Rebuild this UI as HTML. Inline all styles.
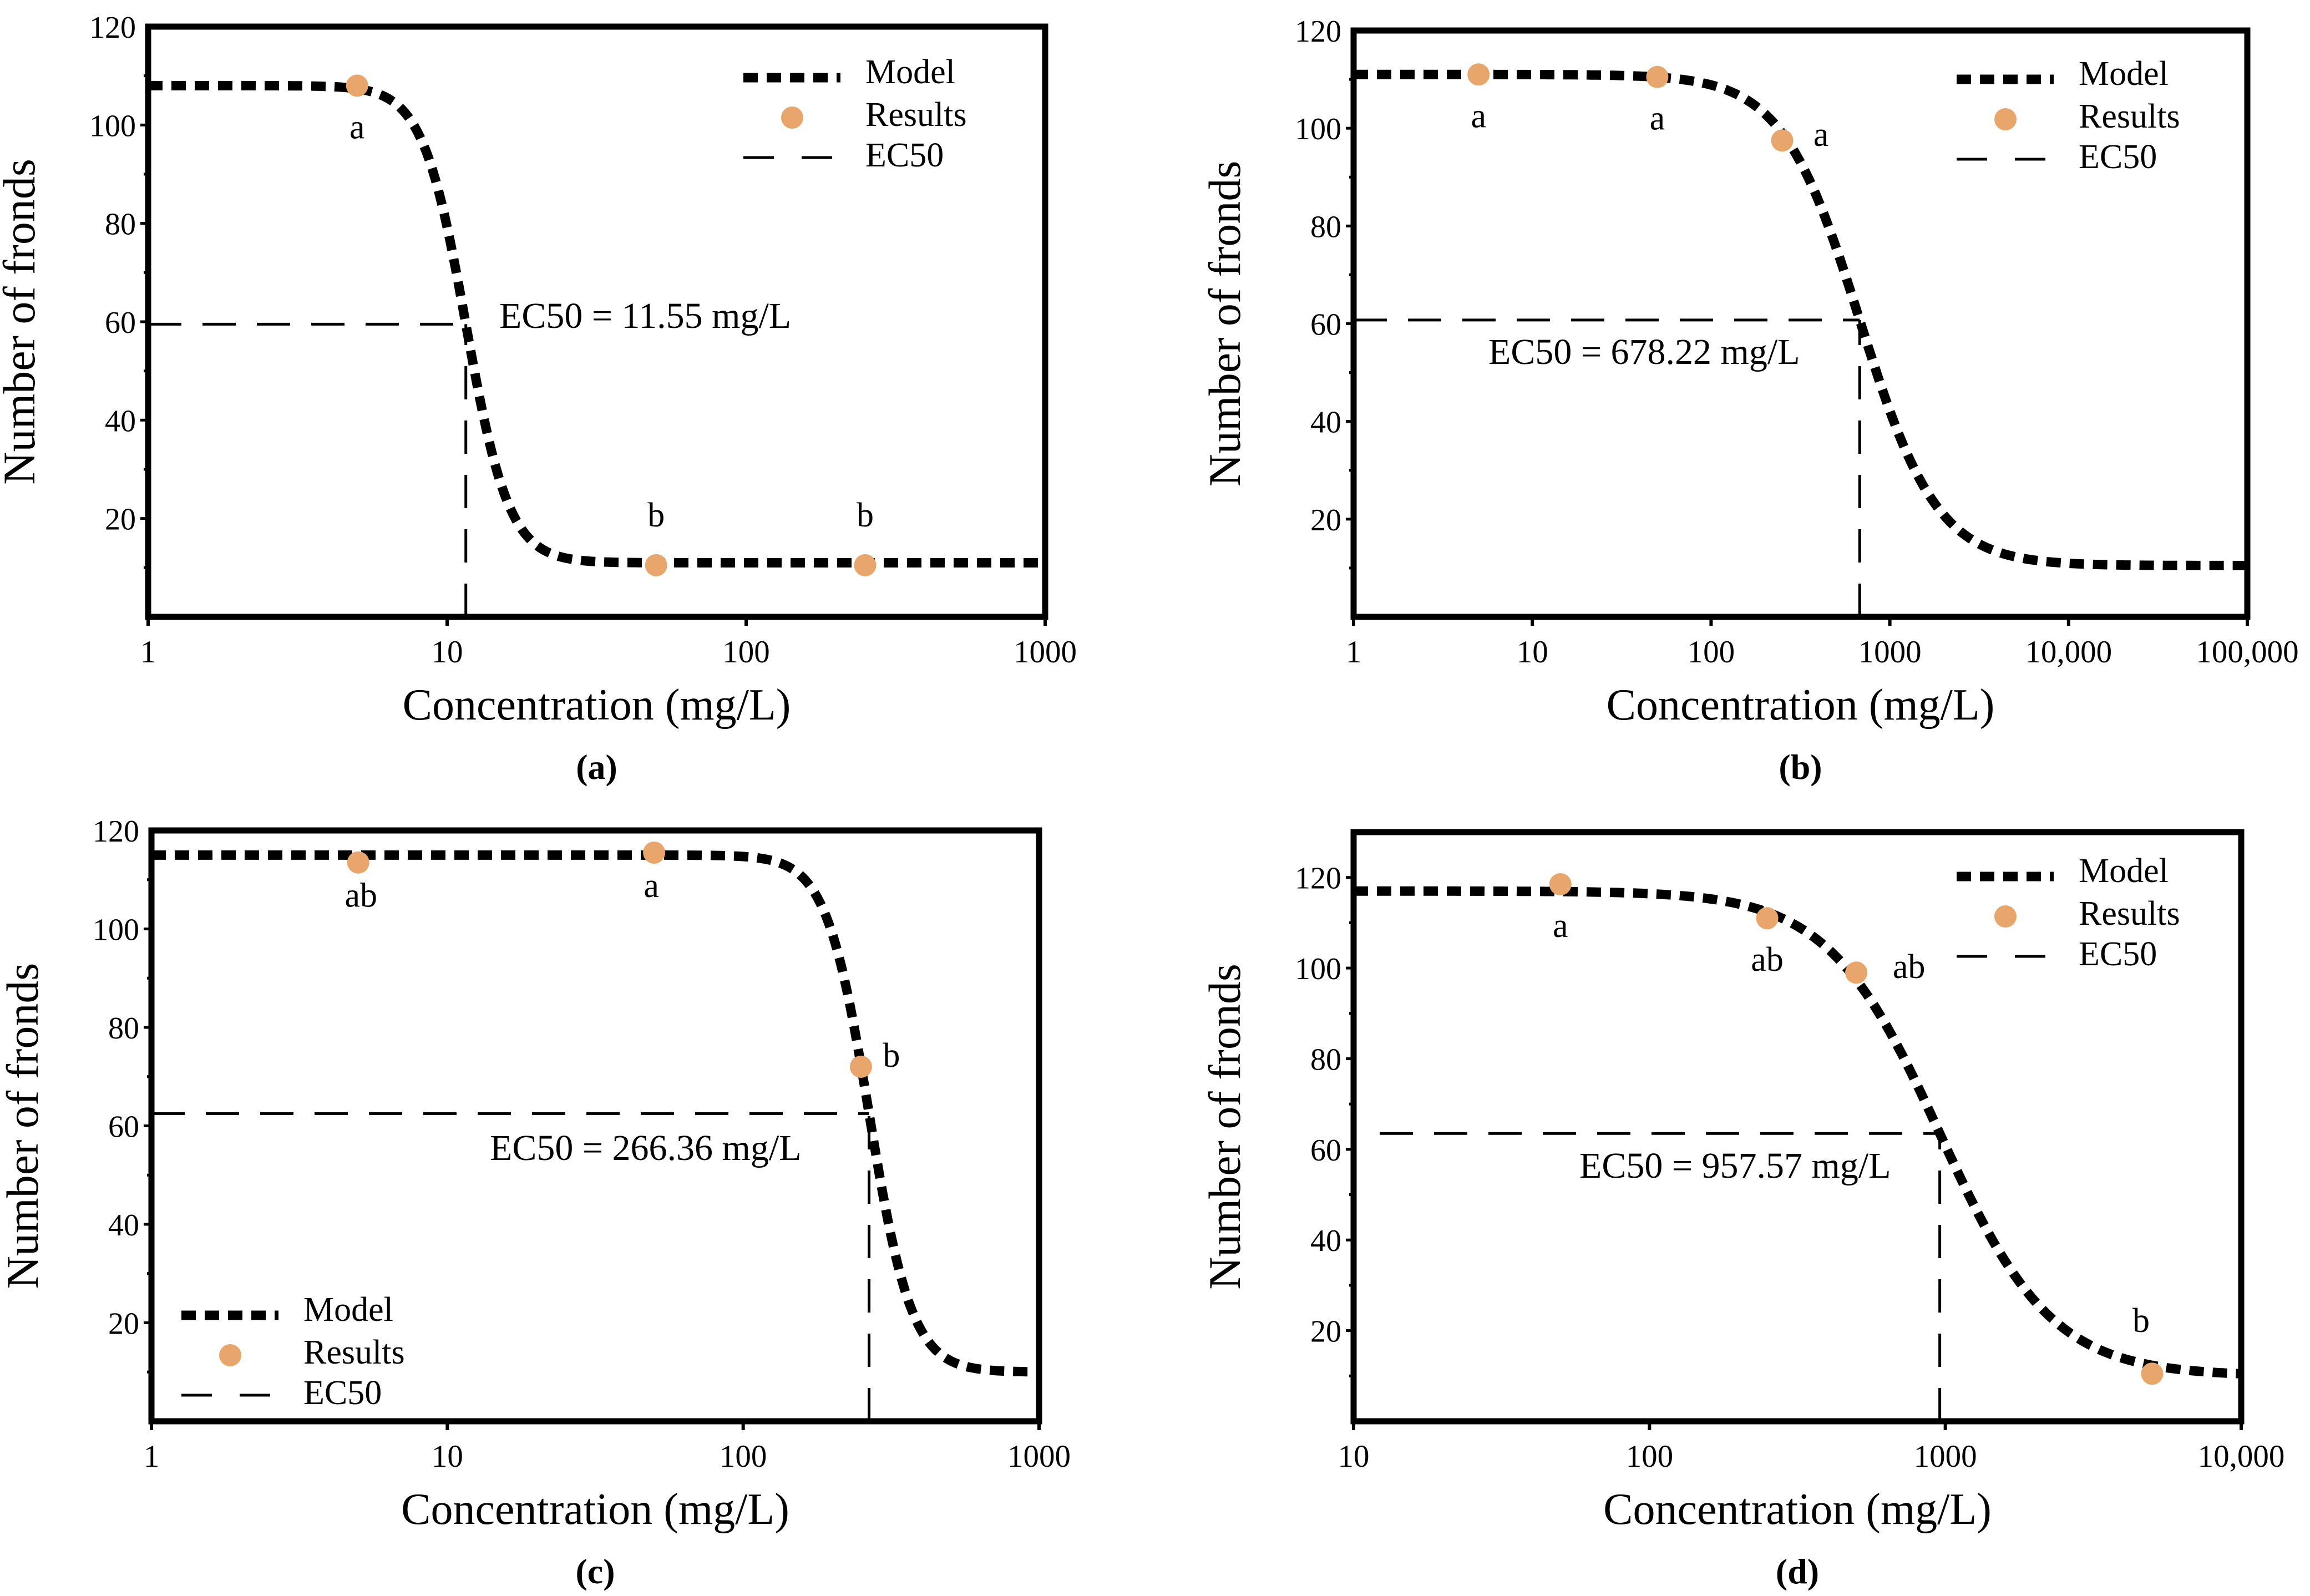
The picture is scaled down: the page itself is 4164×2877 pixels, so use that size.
<!DOCTYPE html>
<html><head><meta charset="utf-8">
<style>
html,body{margin:0;padding:0;background:#fff;}
svg{display:block;font-family:"Liberation Serif",serif;}
</style></head>
<body>
<svg id="fig" width="4164" height="2877" viewBox="0 0 4164 2877" xmlns="http://www.w3.org/2000/svg"></svg>
<script>
// ---- data arrays ----
const panelIds = ['a','b','c','d'];
const xTickLabelsA = ['1','10','100','1000'];
const xTickLabelsB = ['1','10','100','1000','10,000','100,000'];
const xTickLabelsC = ['1','10','100','1000'];
const xTickLabelsD = ['10','100','1000','10,000'];
const yTickLabelsA = [20,40,60,80,100,120];
const yTickLabelsD = [20,40,60,80,100,120];
// fitted model parameters [top, bottom, EC50, hill]
const modelA = [108, 11, 11.55, 6];
const modelB = [111, 10.5, 678.22, 2];
const modelC = [115, 10, 266.36, 6];
const modelD = [117, 10, 957.57, 2.3];
// measured results
const concA = [5, 50, 250];
const valA = [108, 10.5, 10.5];
const letA = ['a','b','b'];
const concB = [5, 50, 250];
const valB = [111, 110.5, 97.5];
const letB = ['a','a','a'];
const concC = [5, 50, 250];
const valC = [113.5, 115.5, 72];
const letC = ['ab','a','b'];
const concD = [50, 250, 500, 5000];
const valD = [118.5, 111, 99, 10.5];
const letD = ['a','ab','ab','b'];
const ec50Labels = ['EC50 = 11.55 mg/L','EC50 = 678.22 mg/L','EC50 = 266.36 mg/L','EC50 = 957.57 mg/L'];

const NS='http://www.w3.org/2000/svg';
const svg=document.getElementById('fig');
function mk(tag,attrs,parent){const e=document.createElementNS(NS,tag);for(const k in attrs)e.setAttribute(k,attrs[k]);(parent||svg).appendChild(e);return e;}

const layouts=[
 {L:267,R:1884,T:48,B:1112,xmin:1,xmax:1000,ymax:120,xt:xTickLabelsA,yt:yTickLabelsA,m:modelA,c:concA,v:valA,l:letA,
  leg:[1340,140],ecLab:[900,591],ecStart:267,lab:[[0,95],[0,-70],[0,-70]]},
 {L:2440,R:4051,T:55,B:1112,xmin:1,xmax:100000,ymax:120,xt:xTickLabelsB,yt:yTickLabelsA,m:modelB,c:concB,v:valB,l:letB,
  leg:[3527,143],ecLab:[2683,656],ecStart:2440,lab:[[0,95],[0,95],[70,10]]},
 {L:273,R:1873,T:1497,B:2562,xmin:1,xmax:1000,ymax:120,xt:xTickLabelsC,yt:yTickLabelsA,m:modelC,c:concC,v:valC,l:letC,
  leg:[327,2371],ecLab:[883,2091],ecStart:273,lab:[[5,80],[-5,80],[55,0]]},
 {L:2440,R:4040,T:1500,B:2562,xmin:10,xmax:10000,ymax:130,xt:xTickLabelsD,yt:yTickLabelsD,m:modelD,c:concD,v:valD,l:letD,
  leg:[3527,1580],ecLab:[2847,2123],ecStart:2487,lab:[[0,95],[0,95],[95,10],[-20,-75]]}
];

layouts.forEach((p,pi)=>{
 const g=mk('g',{});
 
 
 const lx0=Math.log10(p.xmin), lx1=Math.log10(p.xmax);
 const X=c=>p.L+(Math.log10(c)-lx0)/(lx1-lx0)*(p.R-p.L);
 const Y=v=>p.B-v/p.ymax*(p.B-p.T);
 for(let v=10;v<p.ymax;v+=10){
  const t=mk('line',{x1:p.L,x2:p.L-(v%20===0?14:8),y1:Y(v),y2:Y(v),stroke:'#000','stroke-width':5},g);
  
  
 }
 p.yt.forEach(v=>{
  const t=mk('text',{x:p.L-22,y:Y(v)+20,'font-size':56,'text-anchor':'end',fill:'#000'},g);
  t.textContent=v;
  
  
 });
 p.xt.forEach((lab,i)=>{
  const xv=p.xmin*Math.pow(10,i);
  const tk=mk('line',{x1:X(xv),x2:X(xv),y1:p.B,y2:p.B+16,stroke:'#000','stroke-width':6},g);
  
  
  const t=mk('text',{x:X(xv),y:p.B+82,'font-size':57,'text-anchor':'middle',fill:'#000'},g);
  t.textContent=lab;
  
  
 });
 const [top,bot,ec,h]=p.m;
 const mid=(top+bot)/2;
 const eh=mk('line',{x1:p.ecStart,x2:X(ec),y1:Y(mid),y2:Y(mid),stroke:'#000','stroke-width':5,'stroke-dasharray':'60 38'},g);
 
 
 const ev=mk('line',{x1:X(ec),x2:X(ec),y1:p.B,y2:Y(mid),stroke:'#000','stroke-width':5,'stroke-dasharray':'60 38'},g);
 
 
 const el=mk('text',{x:p.ecLab[0],y:p.ecLab[1],'font-size':66,fill:'#000'},g);
 el.textContent=ec50Labels[pi];
 
 
 let d='';
 const N=300;
 for(let i=0;i<=N;i++){
  const lc=lx0+(lx1-lx0)*i/N, c=Math.pow(10,lc);
  const y=bot+(top-bot)/(1+Math.pow(c/ec,h));
  d+=(i?'L':'M')+X(c).toFixed(1)+' '+Y(y).toFixed(1);
 }
 const mp=mk('path',{d:d,fill:'none',stroke:'#000','stroke-width':17,'stroke-dasharray':'26 16'},g);
 
 
 p.c.forEach((c,i)=>{
  const cx=X(c), cy=Y(p.v[i]);
  const pt=mk('ellipse',{cx:cx,cy:cy,rx:20,ry:20,fill:'#E8A56C'},g);
  
  
  const t=mk('text',{x:cx+p.lab[i][0],y:cy+p.lab[i][1],'font-size':62,'text-anchor':'middle',fill:'#000'},g);
  t.textContent=p.l[i];
  
  
 });
 const fr=mk('rect',{x:p.L,y:p.T,width:p.R-p.L,height:p.B-p.T,fill:'none',stroke:'#000','stroke-width':11},g);
 
 
 const [lx,ly]=p.leg;
 const l1=mk('line',{x1:lx,x2:lx+175,y1:ly,y2:ly,stroke:'#000','stroke-width':17,'stroke-dasharray':'26 16'},g);
 
 
 const t1=mk('text',{x:lx+220,y:ly+10,'font-size':62,fill:'#000'},g);t1.textContent='Model';
 
 
 const c2=mk('ellipse',{cx:lx+88,cy:ly+72,rx:20,ry:20,fill:'#E8A56C'},g);
 
 
 const t2=mk('text',{x:lx+220,y:ly+87,'font-size':62,fill:'#000'},g);t2.textContent='Results';
 
 
 const l3=mk('line',{x1:lx,x2:lx+160,y1:ly+144,y2:ly+144,stroke:'#000','stroke-width':5,'stroke-dasharray':'55 50'},g);
 
 
 const t3=mk('text',{x:lx+220,y:ly+160,'font-size':62,fill:'#000'},g);t3.textContent='EC50';
 
 
 const yc=(p.T+p.B)/2, xl=p.L-205;
 const yt=mk('text',{x:xl,y:yc,'font-size':82,'text-anchor':'middle',transform:'rotate(-90 '+xl+' '+yc+')',fill:'#000'},g);
 yt.textContent='Number of fronds';
 
 
 const xc=(p.L+p.R)/2;
 const xt=mk('text',{x:xc,y:p.B+185,'font-size':80,'text-anchor':'middle',fill:'#000'},g);
 xt.textContent='Concentration (mg/L)';
 
 
 const pl=mk('text',{x:xc,y:p.B+292,'font-size':64,'font-weight':'bold','text-anchor':'middle',fill:'#000'},g);
 pl.textContent='('+panelIds[pi]+')';
 
 
});
</script>
</body></html>
